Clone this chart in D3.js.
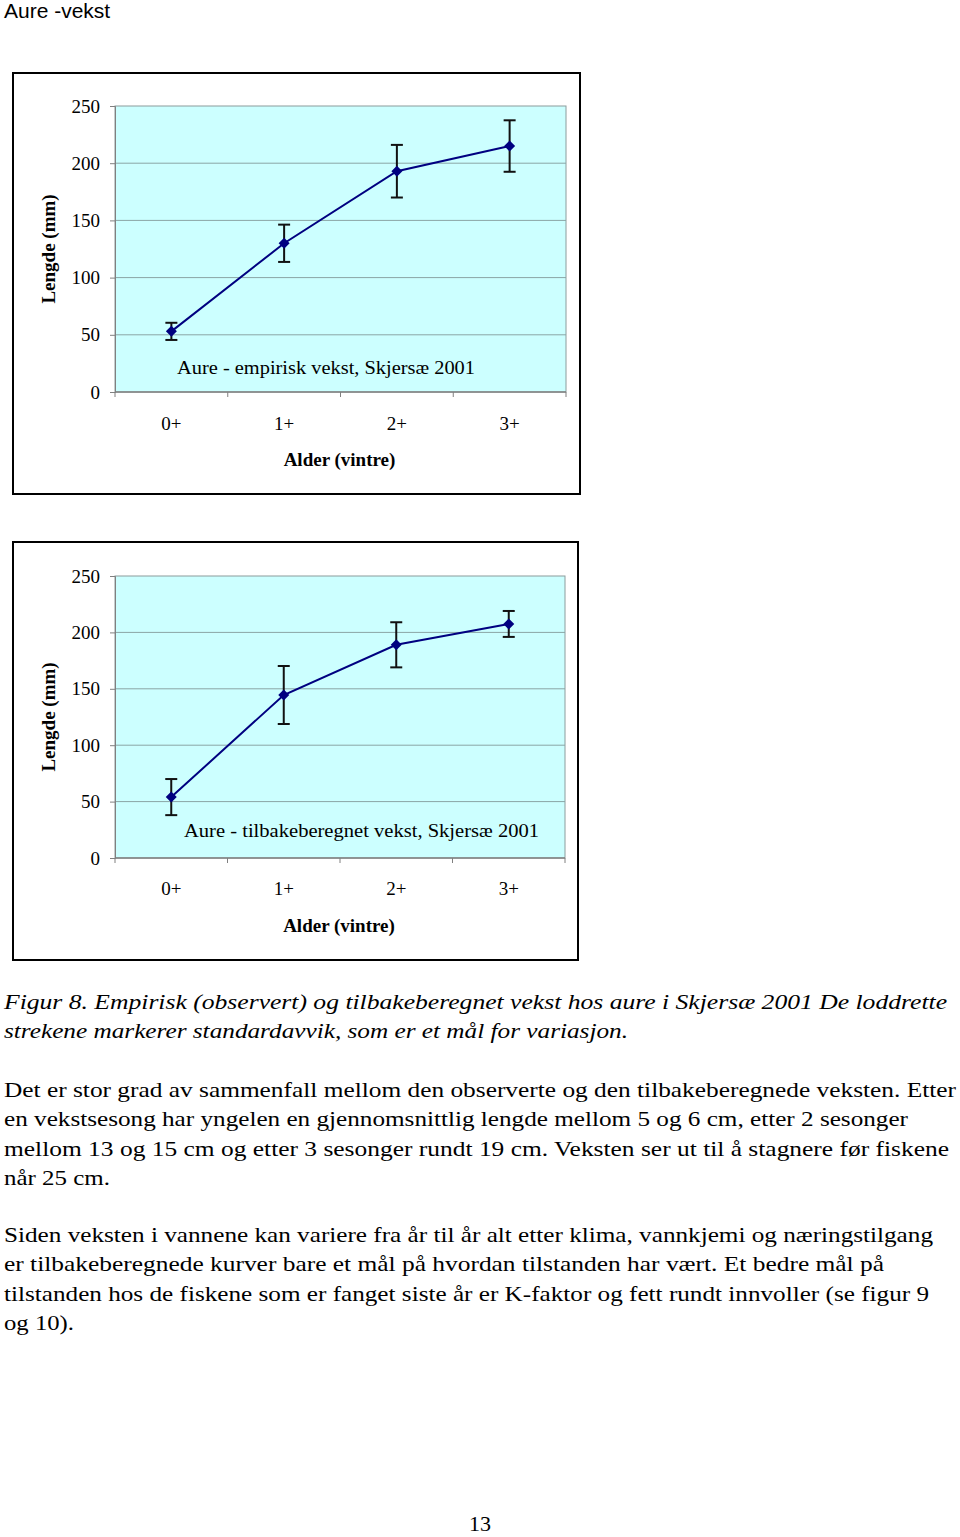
<!DOCTYPE html>
<html>
<head>
<meta charset="utf-8">
<script src="https://cdn.jsdelivr.net/npm/d3@7"></script>
<style>
  html, body { margin: 0; padding: 0; background: #fff; }
  svg { display: block; }
  .serif { font-family: "Liberation Serif", "Times New Roman", Times, serif; }
  .sans { font-family: "Liberation Sans", Arial, Helvetica, sans-serif; }
</style>
</head>
<body>
<svg id="page" width="960" height="1537"></svg>
<script>
// ---- data ----
const ages = ["0+", "1+", "2+", "3+"];
const empiricalMean = [53, 130, 193, 215];
const empiricalSD = [7.5, 16.3, 23, 22.5];
const backcalcMean = [54, 144.5, 189, 207.5];
const backcalcSD = [16, 25.7, 20, 11.5];
const yTicks = [0, 50, 100, 150, 200, 250];
const yTitle = "Lengde (mm)";
const xTitle = "Alder (vintre)";
const pageTitle = "Aure -vekst";
const chartLabels = ["Aure - empirisk vekst,  Skjersæ 2001", "Aure - tilbakeberegnet vekst, Skjersæ 2001"];
const captionLines = [
  "Figur 8.  Empirisk (observert) og tilbakeberegnet vekst hos aure i Skjersæ 2001  De loddrette",
  "strekene markerer standardavvik, som er et mål for variasjon."
];
const para1 = [
  "Det er stor grad av sammenfall mellom den observerte og den tilbakeberegnede veksten.  Etter",
  "en vekstsesong har yngelen en gjennomsnittlig lengde mellom 5 og 6 cm, etter 2 sesonger",
  "mellom 13 og 15 cm og etter 3 sesonger rundt 19 cm.  Veksten ser ut til å stagnere før fiskene",
  "når 25 cm."
];
const para2 = [
  "Siden veksten i vannene kan variere fra år til år alt etter klima, vannkjemi og næringstilgang",
  "er tilbakeberegnede kurver bare et mål på hvordan tilstanden har vært.  Et bedre mål på",
  "tilstanden hos de fiskene som er fanget siste år er K-faktor og fett rundt innvoller (se figur 9",
  "og 10)."
];
const pageNumber = "13";

// ---- drawing ----
const svg = d3.select("#page");

svg.append("text").attr("class", "sans").attr("x", 4).attr("y", 18)
  .attr("font-size", 21).text(pageTitle);

function drawChart(cfg, means, sds, label) {
  const g = svg.append("g");
  g.append("rect").attr("x", cfg.box[0]).attr("y", cfg.box[1])
    .attr("width", cfg.box[2]).attr("height", cfg.box[3])
    .attr("fill", "#fff").attr("stroke", "#000").attr("stroke-width", 2);

  const x = d3.scaleBand().domain(ages).range([cfg.left, cfg.right]);
  const y = d3.scaleLinear().domain([0, 250]).range([cfg.bottom, cfg.top]);

  g.append("rect").attr("x", cfg.left).attr("y", cfg.top)
    .attr("width", cfg.right - cfg.left).attr("height", cfg.bottom - cfg.top)
    .attr("fill", "#ccffff").attr("stroke", "#8c9c9c").attr("stroke-width", 1);

  g.selectAll(".grid").data(yTicks.filter(t => t > 0 && t < 250)).enter().append("line")
    .attr("x1", cfg.left).attr("x2", cfg.right)
    .attr("y1", d => y(d)).attr("y2", d => y(d))
    .attr("stroke", "#8aa5a5").attr("stroke-width", 1);

  const yAxis = d3.axisLeft(y).tickValues(yTicks).tickSize(5).tickPadding(10);
  const ya = g.append("g").attr("transform", `translate(${cfg.left},0)`).call(yAxis);
  ya.attr("font-family", null).attr("font-size", null);
  ya.select(".domain").attr("stroke", "#808080");
  ya.selectAll(".tick line").attr("stroke", "#808080");
  ya.selectAll(".tick text").attr("class", "serif").attr("font-size", 19).attr("fill", "#000");

  const xa = g.append("g").attr("transform", `translate(0,${cfg.bottom})`);
  xa.append("line").attr("x1", cfg.left).attr("x2", cfg.right).attr("stroke", "#808080").attr("stroke-width", 1.5);
  const edges = ages.map(a => x(a)).concat([x(ages[ages.length - 1]) + x.bandwidth()]);
  xa.selectAll(".xt").data(edges).enter().append("line")
    .attr("x1", d => d).attr("x2", d => d).attr("y1", 0).attr("y2", 5).attr("stroke", "#808080");
  xa.selectAll(".xl").data(ages).enter().append("text").attr("class", "serif")
    .attr("x", d => x(d) + x.bandwidth() / 2).attr("y", cfg.xLabelY - cfg.bottom)
    .attr("text-anchor", "middle").attr("font-size", 19).text(d => d);

  g.append("text").attr("class", "serif").attr("x", (cfg.left + cfg.right) / 2 - 1).attr("y", cfg.xTitleY)
    .attr("text-anchor", "middle").attr("font-size", 19)
    .attr("font-weight", "bold").text(xTitle);
  g.append("text").attr("class", "serif").attr("transform", `translate(55,${(cfg.top + cfg.bottom) / 2}) rotate(-90)`)
    .attr("text-anchor", "middle").attr("font-size", 19)
    .attr("font-weight", "bold").text(yTitle);

  g.append("text").attr("class", "serif").attr("x", cfg.labelX).attr("y", cfg.labelY)
    .attr("font-size", 19)
    .attr("textLength", cfg.labelW).attr("lengthAdjust", "spacingAndGlyphs").text(label);

  const pts = ages.map((a, i) => ({ a, m: means[i], s: sds[i] }));
  const cx = d => x(d.a) + x.bandwidth() / 2;

  g.append("path").datum(pts)
    .attr("d", d3.line().x(cx).y(d => y(d.m)))
    .attr("fill", "none").attr("stroke", "#000080").attr("stroke-width", 2);

  const eb = g.selectAll(".eb").data(pts).enter().append("g");
  eb.append("line").attr("x1", cx).attr("x2", cx)
    .attr("y1", d => y(d.m + d.s)).attr("y2", d => y(d.m - d.s))
    .attr("stroke", "#111").attr("stroke-width", 2);
  eb.append("line").attr("x1", d => cx(d) - 6).attr("x2", d => cx(d) + 6)
    .attr("y1", d => y(d.m + d.s)).attr("y2", d => y(d.m + d.s))
    .attr("stroke", "#111").attr("stroke-width", 2);
  eb.append("line").attr("x1", d => cx(d) - 6).attr("x2", d => cx(d) + 6)
    .attr("y1", d => y(d.m - d.s)).attr("y2", d => y(d.m - d.s))
    .attr("stroke", "#111").attr("stroke-width", 2);

  g.selectAll(".mk").data(pts).enter().append("path")
    .attr("d", d => {
      const px = cx(d), py = y(d.m), r = 5.5;
      return `M${px},${py - r}L${px + r},${py}L${px},${py + r}L${px - r},${py}Z`;
    })
    .attr("fill", "#000080");
}

drawChart({ box: [13, 73, 567, 421], left: 115, right: 566, top: 106, bottom: 392,
  xLabelY: 430, xTitleY: 466, labelX: 177, labelY: 374, labelW: 298 },
  empiricalMean, empiricalSD, chartLabels[0]);
drawChart({ box: [13, 542, 565, 418], left: 115, right: 565, top: 576, bottom: 858,
  xLabelY: 895, xTitleY: 932, labelX: 184, labelY: 837, labelW: 355 },
  backcalcMean, backcalcSD, chartLabels[1]);

function block(lines, y0, widths, italic) {
  svg.append("g").selectAll("text").data(lines).enter().append("text")
    .attr("class", "serif")
    .attr("x", 4).attr("y", (d, i) => y0 + i * 29.3)
    .attr("font-size", 22)
    .attr("font-style", italic ? "italic" : "normal")
    .attr("textLength", (d, i) => widths[i])
    .attr("lengthAdjust", "spacingAndGlyphs")
    .text(d => d);
}
block(captionLines, 1009, [943, 624], true);
block(para1, 1097, [952, 904, 945, 106], false);
block(para2, 1242, [929, 880, 925, 70], false);

svg.append("text").attr("class", "serif").attr("x", 480).attr("y", 1531).attr("text-anchor", "middle")
  .attr("font-size", 22).text(pageNumber);
</script>
</body>
</html>
